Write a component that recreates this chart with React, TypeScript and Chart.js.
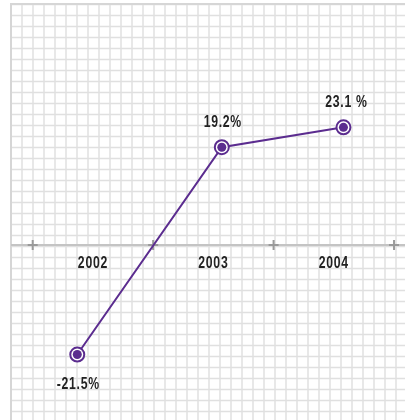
import React, { useEffect, useRef } from "react";
import { Chart, registerables } from "chart.js";

Chart.register(...registerables);

// Data
const categories = ["2002", "2003", "2004"];
const categoryValues = [2002, 2003, 2004];
const pointYears = [2001.87, 2003.07, 2004.08];
const growthValues = [-21.5, 19.2, 23.1];
const valueLabels = ["-21.5%", "19.2%", "23.1 %"];
const boundaries = [2001.5, 2002.5, 2003.5, 2004.5];

const PURPLE = "#5b2c8f";
const FONT = "bold 17px 'Liberation Sans', Arial, sans-serif";
const NARROW = 0.72;

function drawNarrowText(ctx: any, text: string, x: number, y: number) {
  ctx.save();
  ctx.translate(x, y);
  ctx.scale(NARROW, 1);
  try { ctx.letterSpacing = "1px"; } catch (e) {}
  ctx.fillText(text, 0, 0);
  ctx.restore();
}

const paperPlugin = {
  id: "paper",
  beforeDraw(chart: any) {
    const { ctx, width, height } = chart;
    ctx.save();
    ctx.fillStyle = "#ffffff";
    ctx.fillRect(0, 0, width, height);
    ctx.strokeStyle = "#e0e0e0";
    ctx.lineWidth = 1.5;
    for (let x = 11; x <= width + 1; x += 11) {
      ctx.beginPath();
      ctx.moveTo(x, 4);
      ctx.lineTo(x, height);
      ctx.stroke();
    }
    for (let y = 4.5; y <= height + 1; y += 11) {
      ctx.beginPath();
      ctx.moveTo(11, y);
      ctx.lineTo(width, y);
      ctx.stroke();
    }
    ctx.strokeStyle = "#d6d6d6";
    ctx.lineWidth = 2;
    ctx.beginPath();
    ctx.moveTo(11, height);
    ctx.lineTo(11, 4);
    ctx.lineTo(width, 4);
    ctx.stroke();

    // zero axis line
    const xs = chart.scales.x;
    const ys = chart.scales.y;
    const y0 = ys.getPixelForValue(0);
    ctx.strokeStyle = "#c4c4c4";
    ctx.lineWidth = 2;
    ctx.beginPath();
    ctx.moveTo(11, y0);
    ctx.lineTo(width, y0);
    ctx.stroke();

    // crosses at category boundaries
    ctx.strokeStyle = "#9a9a9a";
    ctx.lineWidth = 2;
    boundaries.forEach((b) => {
      const bx = xs.getPixelForValue(b);
      ctx.beginPath();
      ctx.moveTo(bx - 5, y0);
      ctx.lineTo(bx + 5, y0);
      ctx.moveTo(bx, y0 - 5);
      ctx.lineTo(bx, y0 + 5);
      ctx.stroke();
    });

    // category labels
    ctx.fillStyle = "#222222";
    ctx.font = FONT;
    ctx.textAlign = "center";
    ctx.textBaseline = "alphabetic";
    categories.forEach((c, i) => {
      const cx = xs.getPixelForValue(categoryValues[i]);
      drawNarrowText(ctx, c, cx, y0 + 22.5);
    });
    ctx.restore();
  },
};

const valueLabelPlugin = {
  id: "valueLabels",
  afterDatasetsDraw(chart: any) {
    const { ctx } = chart;
    const meta = chart.getDatasetMeta(1);
    ctx.save();
    ctx.fillStyle = "#222222";
    ctx.font = FONT;
    ctx.textAlign = "center";
    ctx.textBaseline = "alphabetic";
    meta.data.forEach((pt: any, i: number) => {
      const v = growthValues[i];
      const y = v >= 0 ? pt.y - 20 : pt.y + 34;
      drawNarrowText(ctx, valueLabels[i], pt.x + (i === 2 ? 3 : 1), y);
    });
    ctx.restore();
  },
};

export default function App() {
  const ref = useRef<HTMLCanvasElement>(null);
  useEffect(() => {
    if (!ref.current) return;
    const points = pointYears.map((x, i) => ({ x, y: growthValues[i] }));
    const chart = new Chart(ref.current, {
      type: "line",
      data: {
        datasets: [
          {
            data: points,
            showLine: false,
            pointRadius: 4.5,
            pointBackgroundColor: PURPLE,
            pointBorderWidth: 0,
            pointHoverRadius: 4.5,
          },
          {
            data: points,
            borderColor: PURPLE,
            borderWidth: 2,
            pointRadius: 7,
            pointHoverRadius: 7,
            pointBackgroundColor: "#ffffff",
            pointBorderColor: PURPLE,
            pointBorderWidth: 2,
            tension: 0,
          },
        ],
      },
      options: {
        responsive: false,
        animation: false,
        layout: { padding: 0, autoPadding: false },
        plugins: { legend: { display: false }, tooltip: { enabled: false } },
        scales: {
          x: { type: "linear", display: false, min: 2001.2285, max: 2004.591 },
          y: { type: "linear", display: false, min: -34.35, max: 48.1 },
        },
      },
      plugins: [paperPlugin, valueLabelPlugin],
    });
    return () => chart.destroy();
  }, []);
  return (
    <div style={{ position: "absolute", left: 0, top: 0, width: 405, height: 420 }}>
      <canvas ref={ref} width={405} height={420} />
    </div>
  );
}
